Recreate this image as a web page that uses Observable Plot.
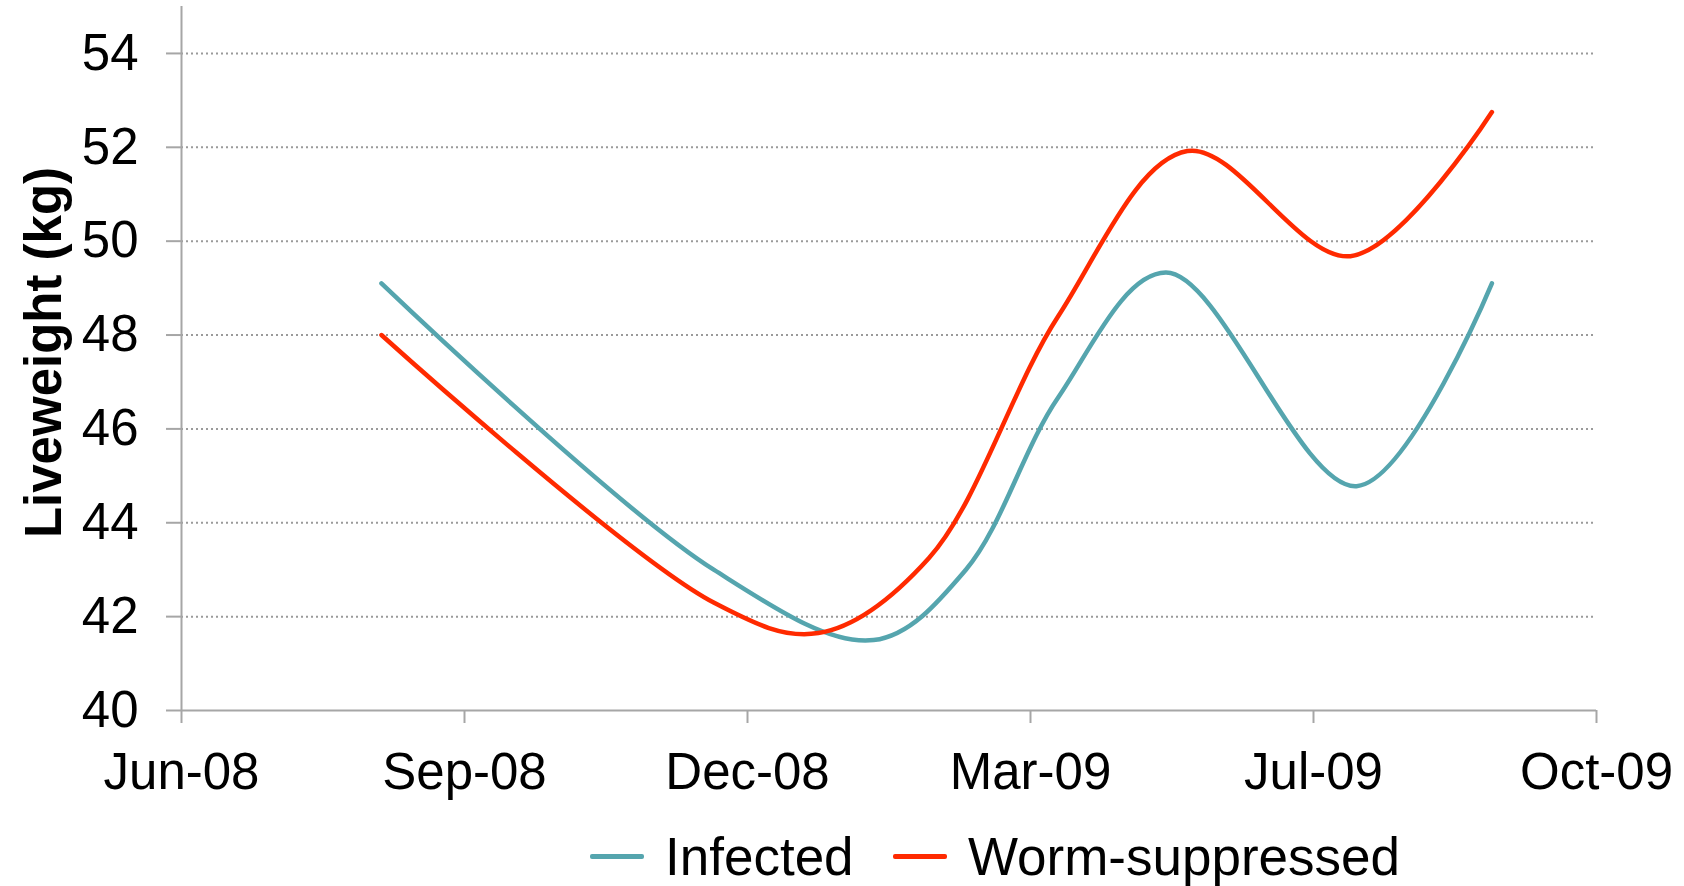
<!DOCTYPE html>
<html>
<head>
<meta charset="utf-8">
<script src="https://cdn.jsdelivr.net/npm/d3@7"></script>
<script src="https://cdn.jsdelivr.net/npm/@observablehq/plot@0.6"></script>
<style>
  html, body { margin: 0; padding: 0; background: #fff; }
  body { width: 1684px; height: 886px; overflow: hidden; font-family: "Liberation Sans", Arial, sans-serif; }
  #chart svg { display: block; }
  #legend { position: relative; height: 76px; }
  .item { position: absolute; top: 11px; height: 70px; display: flex; align-items: center; font-size: 53px; line-height: 1; color: #000; }
  .sw { display: inline-block; width: 54px; height: 5px; border-radius: 2px; margin-right: 21px; }
</style>
</head>
<body>
<div id="chart"></div>
<div id="legend"></div>
<script>
// ---- data ----
const infectedDates   = ["2008-09-01","2008-12-18","2009-02-08","2009-03-10","2009-04-09","2009-05-14","2009-07-15","2009-08-28"];
const infected        = [49.1, 43.0, 41.5, 43.0, 46.67, 49.33, 44.78, 49.1];
const suppressedDates = ["2008-09-01","2008-12-18","2009-01-21","2009-02-26","2009-04-09","2009-05-21","2009-07-13","2009-08-28"];
const suppressed      = [48.0, 42.3, 41.65, 43.25, 48.4, 51.92, 49.68, 52.75];
const seriesNames = ["Infected", "Worm-suppressed"];
const seriesColors = ["#55a5ae", "#ff2a00"];
const xTickDates = ["2008-06-28","2008-09-28","2008-12-29","2009-03-31","2009-07-01","2009-10-01"];
const yTicks = [40, 42, 44, 46, 48, 50, 52, 54];
const yLabel = "Liveweight (kg)";

const parse = d3.utcParse("%Y-%m-%d");
const rows = [
  ...infectedDates.map((d, i) => ({date: parse(d), value: infected[i], series: seriesNames[0]})),
  ...suppressedDates.map((d, i) => ({date: parse(d), value: suppressed[i], series: seriesNames[1]}))
];
const xTicks = xTickDates.map(parse);
const fmt = d3.utcFormat("%b-%y");

const chart = Plot.plot({
  width: 1684,
  height: 810,
  marginLeft: 181,
  marginRight: 88,
  marginTop: 6,
  marginBottom: 100,
  style: {fontFamily: "'Liberation Sans', Arial, sans-serif", fontSize: "50px", color: "#000", background: "#fff", overflow: "visible"},
  x: {type: "utc", domain: [xTicks[0], xTicks[xTicks.length - 1]]},
  y: {domain: [40, 55]},
  color: {domain: seriesNames, range: seriesColors},
  marks: [
    Plot.gridY(yTicks.slice(1), {stroke: "#9a9a9a", strokeOpacity: 1, strokeWidth: 2, strokeDasharray: "2,3"}),
    Plot.axisY({ticks: yTicks, tickSize: 15, tickPadding: 28, label: null, stroke: "#a6a6a6", strokeWidth: 2, fontSize: 51}),
    Plot.axisX({ticks: xTicks, tickFormat: fmt, tickSize: 13, tickPadding: 29, label: null, stroke: "#a6a6a6", strokeWidth: 2, fontSize: 51}),
    Plot.ruleX([xTicks[0]], {stroke: "#a6a6a6", strokeWidth: 2, y1: 40, y2: 55}),
    Plot.ruleY([40], {stroke: "#a6a6a6", strokeWidth: 2}),
    Plot.lineY(rows, {x: "date", y: "value", stroke: "series", z: "series", strokeWidth: 4.5, curve: "catmull-rom"}),
    Plot.text([yLabel], {frameAnchor: "left", textAnchor: "middle", lineAnchor: "middle", rotate: -90, dx: -137, dy: -6, fontSize: 51, fontWeight: "bold", fill: "#000"})
  ]
});
document.getElementById("chart").appendChild(chart);

const legend = document.getElementById("legend");
const legendX = [590, 893];
seriesNames.forEach((name, i) => {
  const it = document.createElement("div");
  it.className = "item";
  it.style.left = legendX[i] + "px";
  it.innerHTML = `<span class="sw" style="background:${seriesColors[i]}"></span><span>${name}</span>`;
  legend.appendChild(it);
});
</script>
</body>
</html>
